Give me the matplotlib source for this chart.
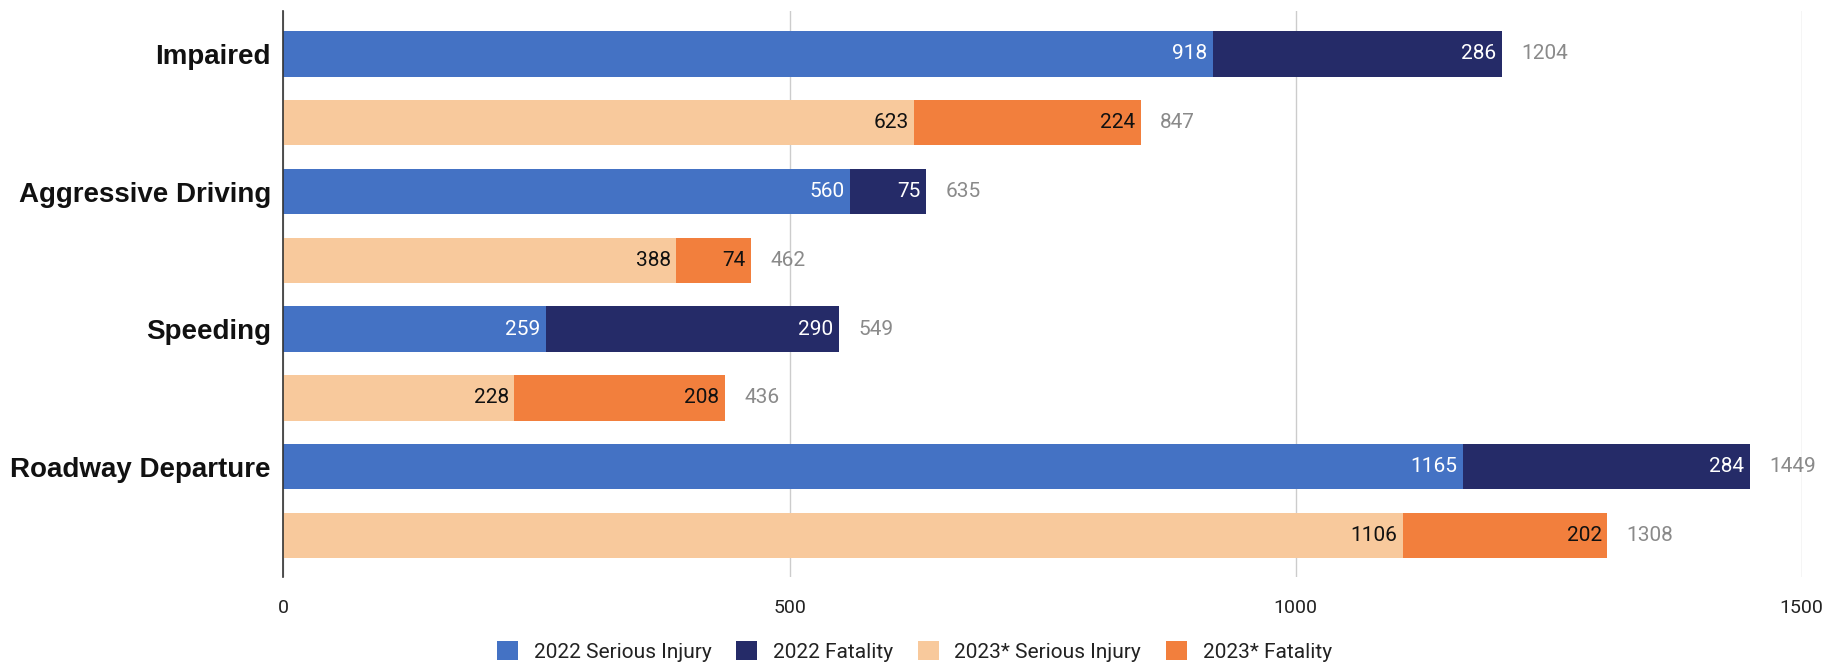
import matplotlib
matplotlib.use("Agg")
import matplotlib.pyplot as plt
import numpy as np

categories = ["Impaired", "Aggressive Driving", "Speeding", "Roadway Departure"]
si_2022 = [918, 560, 259, 1165]
fat_2022 = [286, 75, 290, 284]
si_2023 = [623, 388, 228, 1106]
fat_2023 = [224, 74, 208, 202]
x_ticks = [0, 500, 1000, 1500]
legend_labels = ["2022 Serious Injury", "2022 Fatality", "2023* Serious Injury", "2023* Fatality"]

c_si22 = "#4472C4"
c_f22 = "#252B68"
c_si23 = "#F8C99C"
c_f23 = "#F27F3D"

fig = plt.figure(figsize=(18.29, 6.66), dpi=100)
ax = fig.add_axes([0.155, 0.134, 0.830, 0.850])

h = 0.66
n = len(categories)
y22 = np.arange(n) * 2
y23 = y22 + 1

b1 = ax.barh(y22, si_2022, height=h, color=c_si22, zorder=3)
b2 = ax.barh(y22, fat_2022, left=si_2022, height=h, color=c_f22, zorder=3)
b3 = ax.barh(y23, si_2023, height=h, color=c_si23, zorder=3)
b4 = ax.barh(y23, fat_2023, left=si_2023, height=h, color=c_f23, zorder=3)

numfont = "Roboto"
vfs = 15
pad = 4
for i in range(n):
    t22 = si_2022[i] + fat_2022[i]
    t23 = si_2023[i] + fat_2023[i]
    ax.annotate(str(si_2022[i]), (si_2022[i], y22[i]), xytext=(-pad, 0), textcoords="offset points",
                ha="right", va="center", color="white", fontsize=vfs, family=numfont, zorder=4)
    ax.annotate(str(fat_2022[i]), (t22, y22[i]), xytext=(-pad, 0), textcoords="offset points",
                ha="right", va="center", color="white", fontsize=vfs, family=numfont, zorder=4)
    ax.annotate(str(t22), (t22, y22[i]), xytext=(14, 0), textcoords="offset points",
                ha="left", va="center", color="#8a8a8a", fontsize=vfs, family=numfont, zorder=4)
    ax.annotate(str(si_2023[i]), (si_2023[i], y23[i]), xytext=(-pad, 0), textcoords="offset points",
                ha="right", va="center", color="#111111", fontsize=vfs, family=numfont, zorder=4)
    ax.annotate(str(fat_2023[i]), (t23, y23[i]), xytext=(-pad, 0), textcoords="offset points",
                ha="right", va="center", color="#111111", fontsize=vfs, family=numfont, zorder=4)
    ax.annotate(str(t23), (t23, y23[i]), xytext=(14, 0), textcoords="offset points",
                ha="left", va="center", color="#8a8a8a", fontsize=vfs, family=numfont, zorder=4)

ax.set_xlim(0, 1500)
ax.set_ylim(7.6, -0.63)
ax.set_xticks(x_ticks)
ax.set_xticklabels([str(v) for v in x_ticks], family=numfont, fontsize=14, color="#222222")
ax.set_yticks(y22)
ax.set_yticklabels(categories, family="Liberation Sans", fontweight="bold", fontsize=20, color="#111111")
ax.tick_params(axis="both", length=0)
ax.tick_params(axis="x", pad=16)
ax.tick_params(axis="y", pad=9)

ax.grid(axis="x", color="#cccccc", linewidth=1.0, zorder=0)
for s in ["top", "right", "bottom"]:
    ax.spines[s].set_visible(False)
ax.spines["left"].set_color("#333333")
ax.spines["left"].set_linewidth(1.2)
ax.spines["left"].set_zorder(5)

leg = fig.legend([b1, b2, b3, b4], legend_labels, loc="center", bbox_to_anchor=(0.5, 0.022),
                 ncol=4, frameon=False, handlelength=1.0, handleheight=1.0, columnspacing=1.2,
                 handletextpad=0.75, prop={"family": numfont, "size": 15})
for t in leg.get_texts():
    t.set_color("#222222")

fig.savefig("out.png", dpi=100)
